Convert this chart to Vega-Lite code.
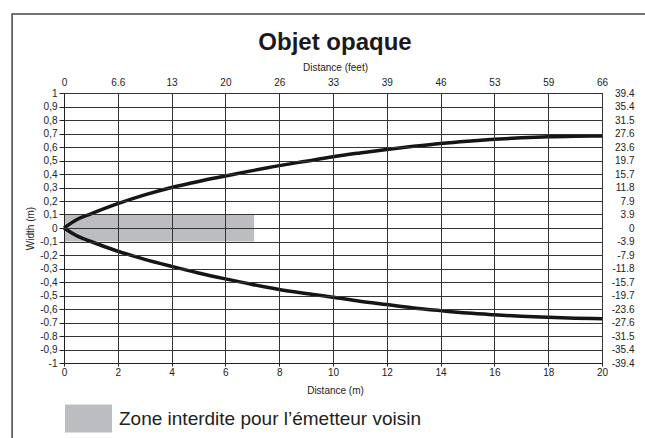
{
  "$schema": "https://vega.github.io/schema/vega-lite/v6.json",
  "width": 538,
  "height": 270,
  "autosize": {"type": "none"},
  "padding": {"left": 64, "top": 93, "right": 43, "bottom": 75},
  "background": "white",
  "title": {"text": "Objet opaque", "fontSize": 24, "font": "Liberation Sans", "fontWeight": "bold", "color": "#1a1a1a", "anchor": "middle", "offset": -42, "dx": 2},
  "config": {
    "font": "Liberation Sans",
    "view": {"stroke": null},
    "axis": {"labelFont": "Liberation Sans", "titleFont": "Liberation Sans", "labelFontSize": 10, "titleFontSize": 10, "titleFontWeight": "normal", "labelColor": "#222", "titleColor": "#222", "domainColor": "#222", "tickColor": "#222", "gridColor": "#333", "gridOpacity": 1, "gridWidth": 1, "labelFlush": false, "labelOverlap": false}
  },
  "layer": [
    {
      "data": {"values": [{}]},
      "mark": {"type": "rect", "fill": null, "fillOpacity": 0, "stroke": "#444", "strokeWidth": 1.5, "clip": false},
      "encoding": {
        "x": {"datum": -1.93, "type": "quantitative", "scale": {"domain": [0, 20], "nice": false, "zero": false}, "axis": null},
        "x2": {"datum": 22.5},
        "y": {"datum": 1.585, "type": "quantitative", "scale": {"domain": [-1, 1], "nice": false, "zero": false}, "axis": null},
        "y2": {"datum": -1.9}
      }
    },
    {
      "data": {"values": [{"x0": 0, "x1": 7.07, "y0": -0.1, "y1": 0.1, "zone": "Zone interdite pour l’émetteur voisin"}]},
      "mark": {"type": "rect"},
      "encoding": {
        "x": {"field": "x0", "type": "quantitative", "scale": {"domain": [0, 20], "nice": false, "zero": false},
          "axis": {"orient": "bottom", "values": [0, 2, 4, 6, 8, 10, 12, 14, 16, 18, 20], "grid": true, "zindex": 1, "title": "Distance (m)", "titleX": 271, "tickSize": 3, "labelPadding": 1, "titlePadding": 8}},
        "x2": {"field": "x1"},
        "y": {"field": "y0", "type": "quantitative", "scale": {"domain": [-1, 1], "nice": false, "zero": false},
          "axis": {"orient": "left", "values": [-1, -0.9, -0.8, -0.7, -0.6, -0.5, -0.4, -0.3, -0.2, -0.1, 0, 0.1, 0.2, 0.3, 0.4, 0.5, 0.6, 0.7, 0.8, 0.9, 1], "grid": true, "zindex": 1, "title": "Width (m)", "tickSize": 5, "labelPadding": 2, "titlePadding": 4,
            "labelExpr": "datum.value == -0.7 ? '-0.7' : datum.value == -0.8 ? '-0.8' : replace(toString(datum.value), '.', ',')"}},
        "y2": {"field": "y1"},
        "fill": {"field": "zone", "type": "nominal", "scale": {"range": ["#BCBDC0"]},
          "legend": {"title": null, "orient": "none", "legendX": 1, "legendY": 302, "padding": 0, "symbolType": "M-1,-0.596L1,-0.596L1,0.596L-1,0.596Z", "symbolSize": 2209, "symbolStrokeWidth": 0, "symbolOpacity": 1, "labelFontSize": 19, "labelColor": "#222", "labelFont": "Liberation Sans", "labelOffset": 7, "labelLimit": 0}}
      }
    },
    {
      "data": {"values": [
        {"d": 0, "w": 0, "side": "haut"}, {"d": 0.5, "w": 0.065, "side": "haut"}, {"d": 1, "w": 0.105, "side": "haut"}, {"d": 2, "w": 0.18, "side": "haut"}, {"d": 3, "w": 0.245, "side": "haut"}, {"d": 4, "w": 0.3, "side": "haut"}, {"d": 5, "w": 0.345, "side": "haut"}, {"d": 6, "w": 0.385, "side": "haut"}, {"d": 7, "w": 0.425, "side": "haut"}, {"d": 8, "w": 0.462, "side": "haut"}, {"d": 9, "w": 0.495, "side": "haut"}, {"d": 10, "w": 0.528, "side": "haut"}, {"d": 11, "w": 0.556, "side": "haut"}, {"d": 12, "w": 0.582, "side": "haut"}, {"d": 13, "w": 0.605, "side": "haut"}, {"d": 14, "w": 0.626, "side": "haut"}, {"d": 15, "w": 0.643, "side": "haut"}, {"d": 16, "w": 0.657, "side": "haut"}, {"d": 17, "w": 0.668, "side": "haut"}, {"d": 18, "w": 0.676, "side": "haut"}, {"d": 19, "w": 0.68, "side": "haut"}, {"d": 20, "w": 0.682, "side": "haut"},
        {"d": 0, "w": 0, "side": "bas"}, {"d": 0.5, "w": -0.06, "side": "bas"}, {"d": 1, "w": -0.1, "side": "bas"}, {"d": 2, "w": -0.172, "side": "bas"}, {"d": 3, "w": -0.232, "side": "bas"}, {"d": 4, "w": -0.284, "side": "bas"}, {"d": 5, "w": -0.333, "side": "bas"}, {"d": 6, "w": -0.377, "side": "bas"}, {"d": 7, "w": -0.418, "side": "bas"}, {"d": 8, "w": -0.455, "side": "bas"}, {"d": 9, "w": -0.485, "side": "bas"}, {"d": 10, "w": -0.513, "side": "bas"}, {"d": 11, "w": -0.542, "side": "bas"}, {"d": 12, "w": -0.567, "side": "bas"}, {"d": 13, "w": -0.592, "side": "bas"}, {"d": 14, "w": -0.612, "side": "bas"}, {"d": 15, "w": -0.63, "side": "bas"}, {"d": 16, "w": -0.643, "side": "bas"}, {"d": 17, "w": -0.654, "side": "bas"}, {"d": 18, "w": -0.662, "side": "bas"}, {"d": 19, "w": -0.668, "side": "bas"}, {"d": 20, "w": -0.672, "side": "bas"}
      ]},
      "mark": {"type": "line", "color": "#151515", "strokeWidth": 3.5, "interpolate": "monotone"},
      "encoding": {
        "x": {"field": "d", "type": "quantitative", "scale": {"domain": [0, 20], "nice": false, "zero": false},
          "axis": {"orient": "top", "values": [0, 2, 4, 6, 8, 10, 12, 14, 16, 18, 20], "grid": false, "ticks": false, "title": "Distance (feet)", "titleX": 271, "labelPadding": 6, "titlePadding": 5,
            "labelExpr": "['0','6.6','13','20','26','33','39','46','53','59','66'][round(datum.value/2)]"}},
        "y": {"field": "w", "type": "quantitative", "scale": {"domain": [-1, 1], "nice": false, "zero": false},
          "axis": {"orient": "right", "values": [-1, -0.9, -0.8, -0.7, -0.6, -0.5, -0.4, -0.3, -0.2, -0.1, 0, 0.1, 0.2, 0.3, 0.4, 0.5, 0.6, 0.7, 0.8, 0.9, 1], "grid": false, "ticks": false, "title": null, "labelAlign": "right", "labelPadding": 32,
            "labelExpr": "datum.value == 0 ? '0' : (datum.value < 0 ? '-' : '') + format(abs(datum.value) * 39.3701, '.1f')"}},
        "detail": {"field": "side", "type": "nominal"}
      }
    }
  ],
  "resolve": {"axis": {"x": "independent", "y": "independent"}}
}
